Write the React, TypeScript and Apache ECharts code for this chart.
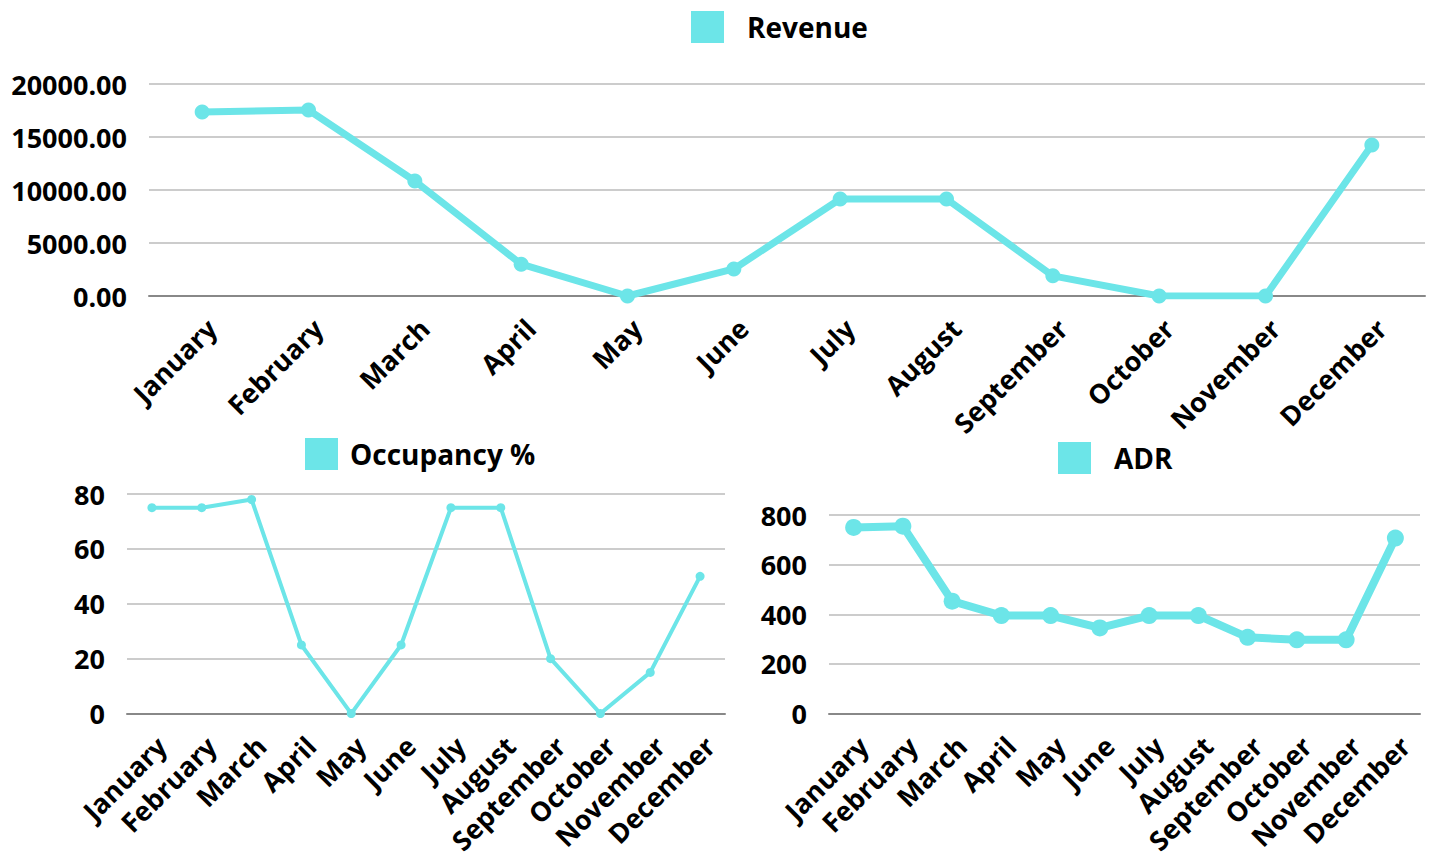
import React, { useEffect, useRef } from "react";
import * as echarts from "echarts";

const months = ["January","February","March","April","May","June","July","August","September","October","November","December"];
const revenue = [17350, 17550, 10850, 3000, 0, 2550, 9150, 9150, 1900, 0, 0, 14250];
const occupancy = [75, 75, 78, 25, 0, 25, 75, 75, 20, 0, 15, 50];
const adr = [750, 755, 453, 395, 395, 345, 395, 395, 307, 297, 297, 707];

const COLOR = "#6ce5e8";
const FONT = "'Open Sans', sans-serif";

export default function App() {
  const ref = useRef<HTMLDivElement>(null);
  useEffect(() => {
    document.body.style.margin = "0";
    const chart = echarts.init(ref.current!, null, { renderer: "svg" });
    const labelBase = { color: "#000", fontFamily: FONT, fontWeight: "bold" as const };
    const xAxisCommon = (gridIndex: number, size: number) => ({
      type: "category" as const,
      gridIndex,
      data: months,
      boundaryGap: true,
      axisLine: { show: true, lineStyle: { color: "#888", width: 2 } },
      axisTick: { show: false },
      axisLabel: { ...labelBase, fontSize: size, rotate: 45, interval: 0, margin: 18, verticalAlign: "top" as const },
    });
    const yAxisCommon = (gridIndex: number, size: number, max: number, interval: number, fmt?: (v: number) => string) => ({
      type: "value" as const,
      gridIndex,
      min: 0,
      max,
      interval,
      axisLine: { show: false },
      axisTick: { show: false },
      splitLine: { lineStyle: { color: "#cccccc", width: 2 } },
      axisLabel: { ...labelBase, fontSize: size, margin: 22, formatter: fmt },
    });
    const legendCommon = (name: string, left: number, top: number, textPad: number) => ({
      data: [name],
      left,
      top,
      padding: 0,
      itemWidth: 33,
      itemHeight: 32,
      icon: "rect",
      textStyle: { ...labelBase, fontSize: 28, padding: [0, 0, 0, textPad] },
    });
    chart.setOption({
      animation: false,
      legend: [
        legendCommon("Revenue", 691, 11, 18),
        legendCommon("Occupancy %", 305, 438, 7),
        legendCommon("ADR", 1058, 442, 18),
      ],
      grid: [
        { left: 149, right: 6, top: 84, height: 212 },
        { left: 127, width: 598, top: 494, height: 221 },
        { left: 829, width: 591, top: 515, height: 200 },
      ],
      xAxis: [xAxisCommon(0, 27), xAxisCommon(1, 27), xAxisCommon(2, 27)],
      yAxis: [
        yAxisCommon(0, 27, 20000, 5000, (v: number) => v.toFixed(2)),
        yAxisCommon(1, 27, 80, 20),
        yAxisCommon(2, 27, 800, 200),
      ],
      series: [
        {
          name: "Revenue", type: "line", xAxisIndex: 0, yAxisIndex: 0, data: revenue,
          symbol: "circle", symbolSize: 15, lineStyle: { width: 7, color: COLOR }, itemStyle: { color: COLOR },
        },
        {
          name: "Occupancy %", type: "line", xAxisIndex: 1, yAxisIndex: 1, data: occupancy,
          symbol: "circle", symbolSize: 9, lineStyle: { width: 4, color: COLOR }, itemStyle: { color: COLOR },
        },
        {
          name: "ADR", type: "line", xAxisIndex: 2, yAxisIndex: 2, data: adr,
          symbol: "circle", symbolSize: 17, lineStyle: { width: 8, color: COLOR }, itemStyle: { color: COLOR },
        },
      ],
    });
    return () => chart.dispose();
  }, []);
  return <div ref={ref} style={{ width: 1431, height: 857 }} />;
}
